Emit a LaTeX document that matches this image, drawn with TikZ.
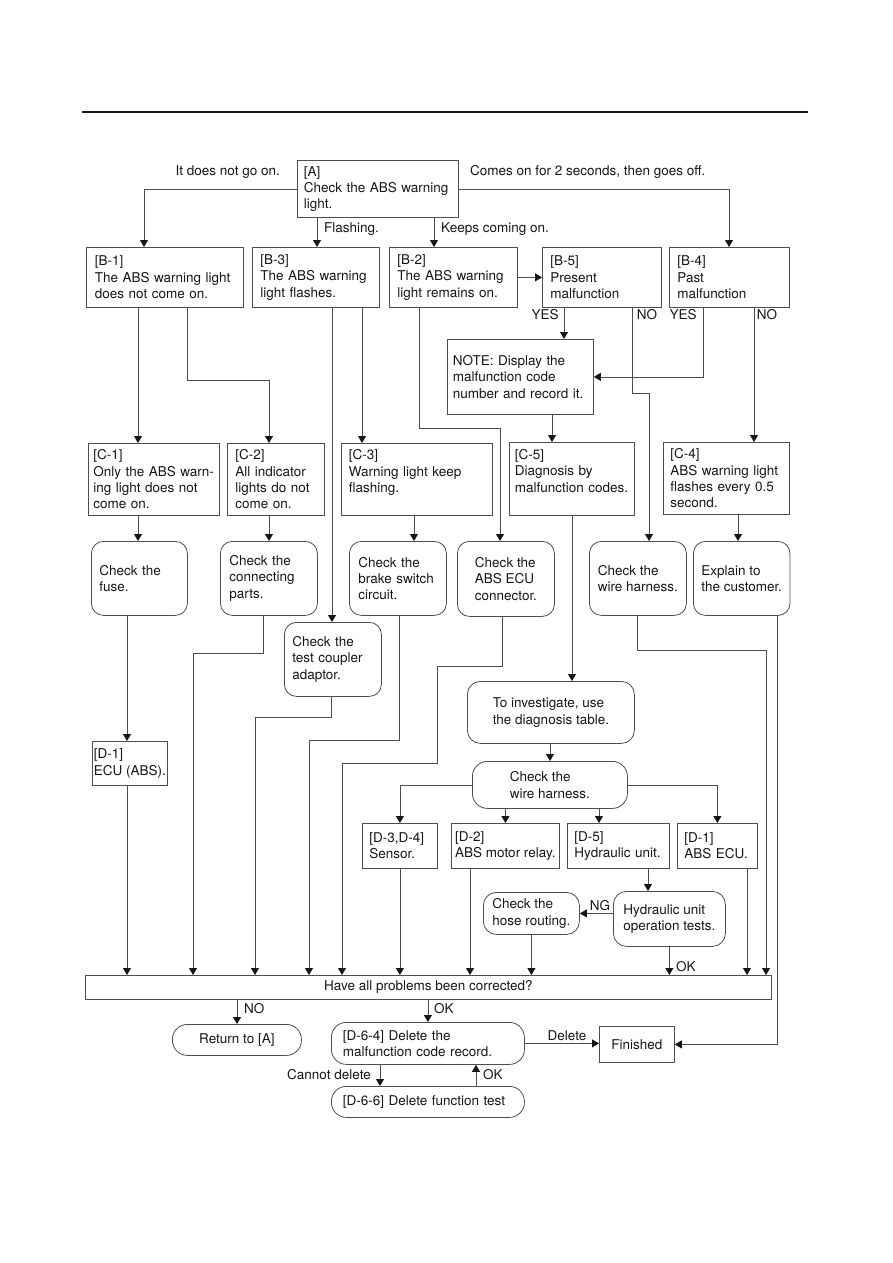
\documentclass[tikz,border=0pt]{standalone}
\usepackage{fontspec}
\setmainfont{TeX Gyre Heros}
\usetikzlibrary{arrows.meta}
\definecolor{ink}{HTML}{161616}
\definecolor{edge}{HTML}{4E4E4E}
\newcommand{\fs}{\fontsize{13.5pt}{16.3pt}\selectfont}
\tikzset{
  box/.style={draw=edge, line width=0.8pt, anchor=north west, align=left,
    inner xsep=8pt, inner ysep=0pt, text=ink},
  rbox/.style={box, rounded corners=12pt},
  pill/.style={box, rounded corners=15pt},
  arr/.style={-{Triangle[length=7pt,width=8pt,color=ink]}, line width=0.8pt, color=edge},
  lab/.style={inner sep=0pt, text=ink},
}

\begin{document}
\begin{tikzpicture}[x=1pt, y=-1pt, font=\fs]
  \useasboundingbox (0,0) rectangle (893,1263);
  \draw[line width=2.2pt, color=ink] (82,112) -- (808,112);
  % first rows
  \node[box, text width=148pt, inner xsep=6.5pt, minimum height=57pt] (a) at (297,160) {[A]\\Check the ABS warning\\light.};
  \node[box, text width=140pt, inner xsep=8.5pt, minimum height=60pt] (b1) at (86,247) {[B-1]\\The ABS warning light\\does not come on.};
  \node[box, text width=111pt, minimum height=60pt] (b3) at (252,247) {[B-3]\\The ABS warning\\light flashes.};
  \node[box, text width=112pt, minimum height=60pt] (b2) at (389,247) {[B-2]\\The ABS warning\\light remains on.};
  \node[box, text width=103pt, minimum height=60pt] (b5) at (542,247) {[B-5]\\Present\\malfunction};
  \node[box, text width=104pt, minimum height=60pt] (b4) at (669,247) {[B-4]\\Past\\malfunction};
  \node[box, text width=135pt, inner xsep=5.5pt, minimum height=75pt] (note) at (447,339) {NOTE: Display the\\malfunction code\\number and record it.};
  \node[box, text width=121pt, inner xsep=5pt, minimum height=72pt] (c1) at (88,443) {[C-1]\\Only the ABS warn-\\ing light does not\\come on.};
  \node[box, text width=81pt, minimum height=72pt] (c2) at (227,443) {[C-2]\\All indicator\\lights do not\\come on.};
  \node[box, text width=136pt, inner xsep=7.5pt, minimum height=72pt] (c3) at (341,443) {[C-3]\\Warning light keep\\flashing.\\\mbox{}};
  \node[box, text width=114pt, inner xsep=5.5pt, minimum height=73pt] (c5) at (509,442) {[C-5]\\Diagnosis by\\malfunction codes.\\\mbox{}};
  \node[box, text width=112pt, inner xsep=7pt, minimum height=72pt] (c4) at (663,442) {[C-4]\\ABS warning light\\flashes every 0.5\\second.};
  % checks
  \node[rbox, text width=80pt, minimum height=74pt] (fuse) at (91,541) {Check the\\fuse.};
  \node[rbox, text width=79pt, inner xsep=9pt, minimum height=74pt] (conn) at (220,541) {Check the\\connecting\\parts.};
  \node[rbox, text width=79pt, inner xsep=9pt, minimum height=74pt] (brake) at (349,541) {Check the\\brake switch\\circuit.};
  \node[rbox, minimum width=97pt, minimum height=75pt] (ecuconn) at (457,541) {Check the\\ABS ECU\\connector.};
  \node[rbox, minimum width=97pt, minimum height=74pt] (wire1) at (589,541) {Check the\\wire harness.};
  \node[rbox, minimum width=96pt, minimum height=74pt] (explain) at (693,541) {Explain to\\the customer.};
  \node[rbox, text width=81pt, minimum height=74pt] (coupler) at (284,622) {Check the\\test coupler\\adaptor.};
  \node[box, minimum width=75pt, inner xsep=1pt, minimum height=44pt] (d1a) at (92,741) {[D-1]\\ECU (ABS).};
  \node[rbox, rounded corners=13pt, minimum width=167pt, minimum height=62pt] (invest) at (467,681) {To investigate, use\\the diagnosis table.};
  \node[pill, minimum width=155pt, minimum height=47pt] (wire2) at (472,761) {Check the\\wire harness.};
  \node[box, text width=61pt, inner xsep=7pt, minimum height=45pt] (d34) at (362,823) {[D-3,D-4]\\Sensor.};
  \node[box, minimum width=108pt, inner xsep=2pt, minimum height=45pt] (d2) at (451,823) {[D-2]\\ABS motor relay.};
  \node[box, text width=88pt, inner xsep=7pt, minimum height=45pt] (d5) at (567,823) {[D-5]\\Hydraulic unit.};
  \node[box, text width=66pt, inner xsep=7pt, minimum height=45pt] (d1b) at (677,823) {[D-1]\\ABS ECU.};
  \node[rbox, rounded corners=13pt, minimum width=96pt, minimum height=42pt] (hose) at (483,892) {Check the\\hose routing.};
  \node[rbox, rounded corners=13pt, minimum width=112pt, minimum height=55pt] (hyd) at (613,891) {Hydraulic unit\\operation tests.};
  \node[box, align=center, minimum width=686pt, minimum height=24pt] (q) at (85,975) {Have all problems been corrected?};
  \node[pill, minimum width=129pt, minimum height=31pt] (ret) at (172,1024) {Return to [A]};
  \node[pill, text width=170pt, inner xsep=11.5pt, minimum height=42pt] (d64) at (331,1022) {[D-6-4] Delete the\\malfunction code record.};
  \node[box, minimum width=75pt, minimum height=36pt] (fin) at (599,1026) {Finished};
  \node[pill, text width=170pt, inner xsep=11.5pt, minimum height=31pt] (d66) at (331,1086) {[D-6-6] Delete function test};
  % connectors
  \draw[arr] (a.west) -| (b1.north -| 144,0);
  \draw[arr] (a.east) -| (b4.north -| 729,0);
  \draw[arr] (a.south -| 317,0) -- (b3.north -| 317,0);
  \draw[arr] (a.south -| 434,0) -- (b2.north -| 434,0);
  \draw[arr] (b2.east) -- (b5.west);
  \draw[arr] (b1.south -| 138,0) -- (c1.north -| 138,0);
  \draw[arr] (b1.south -| 187,0) -- ++(0,73) -| (c2.north -| 269,0);
  \draw[arr] (b3.south -| 332,0) -- (coupler.north -| 332,0);
  \draw[arr] (b3.south -| 362,0) -- (c3.north -| 362,0);
  \draw[arr] (b2.south -| 419,0) -- ++(0,121) -| (ecuconn.north -| 500,0);
  \draw[arr] (b5.south -| 564,0) -- (note.north -| 564,0);
  \draw[arr] (b5.south -| 632,0) -- ++(0,86) -| (wire1.north -| 649,0);
  \draw[arr] (b4.south -| 703,0) |- (note.east);
  \draw[arr] (b4.south -| 754,0) -- (c4.north -| 754,0);
  \draw[arr] (note.south -| 552,0) -- (c5.north -| 552,0);
  \draw[arr] (c1.south -| 138,0) -- (fuse.north -| 138,0);
  \draw[arr] (c2.south -| 269,0) -- (conn.north -| 269,0);
  \draw[arr] (c3.south -| 414,0) -- (brake.north -| 414,0);
  \draw[arr] (c4.south -| 738,0) -- (explain.north -| 738,0);
  \draw[arr] (c5.south -| 572,0) -- (invest.north -| 572,0);
  \draw[arr] (fuse.south -| 127,0) -- (d1a.north -| 127,0);
  \draw[arr] (d1a.south -| 127,0) -- (q.north -| 127,0);
  \draw[arr] (conn.south -| 263,0) -- ++(0,38) -| (q.north -| 193,0);
  \draw[arr] (coupler.south -| 331,0) -- ++(0,21) -| (q.north -| 255,0);
  \draw[arr] (brake.south -| 399,0) -- ++(0,125) -| (q.north -| 309,0);
  \draw[arr] (ecuconn.south -| 502,0) -- ++(0,50) -| ++(-65,97) -| (q.north -| 342,0);
  \draw[arr] (invest.south -| 550,0) -- (wire2.north -| 550,0);
  \draw[arr] (wire2.west) -| (d34.north);
  \draw[arr] (wire2.east) -| (d1b.north);
  \draw[arr] (wire2.south -| d2.north) -- (d2.north);
  \draw[arr] (wire2.south -| 599,0) -- (d5.north -| 599,0);
  \draw[arr] (d5.south -| 648,0) -- (hyd.north -| 648,0);
  \draw[arr] (hyd.west |- hose.east) -- (hose.east);
  \draw[arr] (d34.south) -- (q.north -| d34.south);
  \draw[arr] (d2.south -| 470,0) -- (q.north -| 470,0);
  \draw[arr] (hose.south) -- (q.north -| hose.south);
  \draw[arr] (hyd.south) -- (q.north -| hyd.south);
  \draw[arr] (d1b.south -| 747,0) -- (q.north -| 747,0);
  \draw[arr] (wire1.south -| 637,0) -- ++(0,35) -| (q.north -| 766,0);
  \draw[arr] (explain.south -| 777,0) |- (fin.east);
  \draw[arr] (q.south -| 237,0) -- (ret.north -| 237,0);
  \draw[arr] (q.south -| d64.north) -- (d64.north);
  \draw[arr] (d64.east) -- (d64.east -| fin.west);
  \draw[arr] (d64.south -| 380,0) -- (d66.north -| 380,0);
  \draw[arr] (d66.north -| 476,0) -- (d64.south -| 476,0);
  % labels
  \node[lab, anchor=east] (t1) at (280,172) {It does not go on.};
  \node[lab, anchor=west] (t2) at (470,172) {Comes on for 2 seconds, then goes off.};
  \node[lab, anchor=west] (t3) at (324,229) {Flashing.};
  \node[lab, anchor=west] (t4) at (441,229) {Keeps coming on.};
  \node[lab] (t5) at (545,315) {YES};
  \node[lab] (t6) at (647,315) {NO};
  \node[lab] (t7) at (683,315) {YES};
  \node[lab] (t8) at (767,315) {NO};
  \node[lab] (t9) at (600,906) {NG};
  \node[lab, anchor=west] (t10) at (676,967) {OK};
  \node[lab, anchor=west] (t11) at (244,1009) {NO};
  \node[lab, anchor=west] (t12) at (434,1009) {OK};
  \node[lab] (t13) at (567,1036) {Delete};
  \node[lab, anchor=east] (t14) at (371,1075) {Cannot delete};
  \node[lab, anchor=west] (t15) at (483,1075) {OK};
\end{tikzpicture}
\end{document}
